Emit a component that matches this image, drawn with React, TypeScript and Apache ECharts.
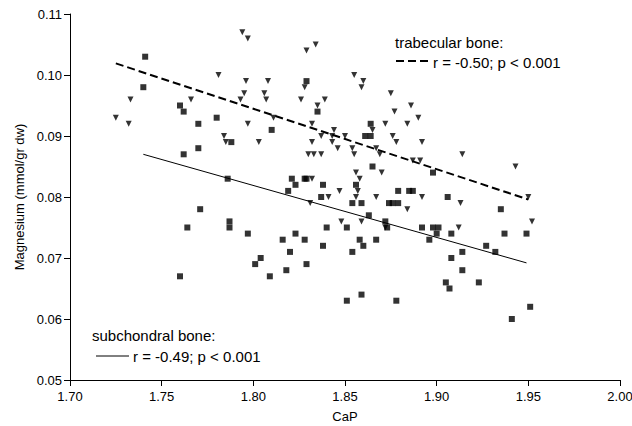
import React, { useEffect, useRef } from "react";
import * as echarts from "echarts";

// Trabecular bone (down-pointing triangles)
const trabecularCaP = [
  1.794, 1.797, 1.781, 1.796, 1.795, 1.793, 1.733, 1.766, 1.725, 1.732,
  1.797, 1.784, 1.785, 1.803, 1.834, 1.829, 1.855, 1.86, 1.859, 1.808,
  1.828, 1.806, 1.807, 1.826, 1.839, 1.875, 1.835, 1.877, 1.886, 1.89,
  1.811, 1.832, 1.872, 1.884, 1.844, 1.865, 1.837, 1.843, 1.85, 1.876,
  1.878, 1.892, 1.832, 1.843, 1.854, 1.846, 1.867, 1.83, 1.833, 1.837,
  1.855, 1.869, 1.887, 1.891, 1.87, 1.856, 1.858, 1.832, 1.841, 1.847,
  1.857, 1.856, 1.867, 1.892, 1.831, 1.884, 1.848, 1.859, 1.872, 1.913,
  1.95, 1.952, 1.912, 1.914, 1.943,
];
const trabecularMg = [
  0.107, 0.106, 0.1, 0.099, 0.097, 0.096, 0.096, 0.096, 0.093, 0.092,
  0.092, 0.09, 0.089, 0.089, 0.105, 0.104, 0.1, 0.099, 0.098, 0.099,
  0.098, 0.097, 0.096, 0.096, 0.096, 0.097, 0.095, 0.094, 0.095, 0.093,
  0.093, 0.092, 0.092, 0.092, 0.091, 0.091, 0.09, 0.09, 0.09, 0.09,
  0.089, 0.089, 0.089, 0.089, 0.088, 0.088, 0.088, 0.087, 0.087, 0.087,
  0.087, 0.087, 0.086, 0.086, 0.084, 0.084, 0.083, 0.083, 0.08, 0.081,
  0.081, 0.08, 0.08, 0.08, 0.079, 0.078, 0.076, 0.076, 0.075, 0.079,
  0.08, 0.076, 0.075, 0.087, 0.085,
];

// Subchondral bone (squares)
const subchondralCaP = [
  1.741, 1.74, 1.76, 1.762, 1.78, 1.77, 1.788, 1.77, 1.762, 1.786,
  1.771, 1.764, 1.787, 1.787, 1.797, 1.76, 1.801, 1.804, 1.829, 1.835,
  1.81, 1.864, 1.861, 1.864, 1.865, 1.821, 1.823, 1.828, 1.829, 1.838,
  1.856, 1.819, 1.837, 1.879, 1.885, 1.887, 1.854, 1.859, 1.874, 1.876,
  1.879, 1.863, 1.872, 1.873, 1.84, 1.851, 1.892, 1.896, 1.823, 1.816,
  1.828, 1.858, 1.867, 1.838, 1.86, 1.82, 1.854, 1.829, 1.818, 1.809,
  1.851, 1.859, 1.878, 1.906, 1.935, 1.898, 1.901, 1.9, 1.908, 1.937,
  1.949, 1.927, 1.932, 1.914, 1.908, 1.914, 1.905, 1.907, 1.923, 1.951,
  1.941, 1.898,
];
const subchondralMg = [
  0.103, 0.098, 0.095, 0.094, 0.093, 0.092, 0.089, 0.088, 0.087, 0.083,
  0.078, 0.075, 0.076, 0.075, 0.074, 0.067, 0.069, 0.07, 0.099, 0.094,
  0.091, 0.092, 0.09, 0.09, 0.085, 0.083, 0.082, 0.083, 0.083, 0.082,
  0.082, 0.081, 0.08, 0.081, 0.081, 0.081, 0.079, 0.079, 0.079, 0.079,
  0.079, 0.077, 0.076, 0.075, 0.075, 0.075, 0.075, 0.073, 0.074, 0.073,
  0.073, 0.073, 0.073, 0.072, 0.072, 0.071, 0.071, 0.069, 0.068, 0.067,
  0.063, 0.064, 0.063, 0.08, 0.078, 0.075, 0.075, 0.074, 0.074, 0.074,
  0.074, 0.072, 0.071, 0.071, 0.07, 0.068, 0.066, 0.065, 0.066, 0.062,
  0.06, 0.084,
];

// Regression lines (end points)
const trabecularFitCaP = [1.725, 1.95];
const trabecularFitMg = [0.1019, 0.0796];
const subchondralFitCaP = [1.74, 1.949];
const subchondralFitMg = [0.087, 0.0692];

const xTicks = { min: 1.7, max: 2.0, interval: 0.05 };
const yTicks = { min: 0.05, max: 0.11, interval: 0.01 };

const FONT = '"Liberation Sans", Arial, sans-serif';

function zip(xs: number[], ys: number[]) {
  return xs.map((x, i) => [x, ys[i]]);
}

export default function App() {
  const ref = useRef<HTMLDivElement>(null);
  useEffect(() => {
    if (!ref.current) return;
    const chart = echarts.init(ref.current, null, { renderer: "svg" });
    const axisCommon = {
      type: "value" as const,
      nameLocation: "middle" as const,
      nameTextStyle: { fontSize: 13, color: "#000", fontFamily: FONT },
      axisLine: { show: true, onZero: false, lineStyle: { color: "#000", width: 1 } },
      axisTick: { show: true, inside: false, length: 6, lineStyle: { color: "#000", width: 1 } },
      splitLine: { show: false },
    };
    chart.setOption({
      animation: false,
      backgroundColor: "#fff",
      grid: { left: 70, right: 12, top: 14, bottom: 46, outerBoundsMode: "none" },
      xAxis: {
        ...axisCommon,
        min: xTicks.min,
        max: xTicks.max,
        interval: xTicks.interval,
        name: "CaP",
        nameGap: 30,
        axisLabel: {
          formatter: (v: number) => v.toFixed(2),
          fontSize: 13,
          color: "#000",
          fontFamily: FONT,
          margin: 10,
          showMinLabel: true,
          showMaxLabel: true,
        },
      },
      yAxis: {
        ...axisCommon,
        min: yTicks.min,
        max: yTicks.max,
        interval: yTicks.interval,
        name: "Magnesium (mmol/gr dw)",
        nameGap: 43,
        axisLabel: {
          formatter: (v: number) => v.toFixed(2),
          fontSize: 13,
          color: "#000",
          fontFamily: FONT,
          margin: 8,
        },
      },
      series: [
        {
          type: "scatter",
          name: "trabecular bone",
          data: zip(trabecularCaP, trabecularMg),
          symbol: "triangle",
          symbolRotate: 180,
          symbolSize: 6,
          itemStyle: { color: "#000" },
          z: 3,
        },
        {
          type: "scatter",
          name: "subchondral bone",
          data: zip(subchondralCaP, subchondralMg),
          symbol: "rect",
          symbolSize: 6,
          itemStyle: { color: "#000" },
          z: 3,
        },
        {
          type: "line",
          data: zip(trabecularFitCaP, trabecularFitMg),
          showSymbol: false,
          symbol: "none",
          lineStyle: { color: "#000", width: 2, type: [8, 4] },
          z: 2,
        },
        {
          type: "line",
          data: zip(subchondralFitCaP, subchondralFitMg),
          showSymbol: false,
          symbol: "none",
          lineStyle: { color: "#000", width: 1, type: "solid" },
          z: 2,
        },
      ],
      graphic: [
        {
          type: "text",
          x: 395,
          y: 42,
          style: { text: "trabecular bone:", font: `15px ${FONT}`, fill: "#000", verticalAlign: "middle" },
        },
        {
          type: "line",
          shape: { x1: 396, y1: 61, x2: 431, y2: 61 },
          style: { stroke: "#000", lineWidth: 2, lineDash: [8, 4] },
        },
        {
          type: "text",
          x: 433,
          y: 62,
          style: { text: "r = -0.50; p < 0.001", font: `15px ${FONT}`, fill: "#000", verticalAlign: "middle" },
        },
        {
          type: "text",
          x: 92,
          y: 335,
          style: { text: "subchondral bone:", font: `15px ${FONT}`, fill: "#000", verticalAlign: "middle" },
        },
        {
          type: "line",
          shape: { x1: 96, y1: 356, x2: 129, y2: 356 },
          style: { stroke: "#000", lineWidth: 1 },
        },
        {
          type: "text",
          x: 133,
          y: 356,
          style: { text: "r = -0.49; p < 0.001", font: `15px ${FONT}`, fill: "#000", verticalAlign: "middle" },
        },
      ],
    });
    return () => chart.dispose();
  }, []);
  return (
    <div
      ref={ref}
      style={{ position: "fixed", left: 0, top: 0, width: 632, height: 426, background: "#fff" }}
    />
  );
}
